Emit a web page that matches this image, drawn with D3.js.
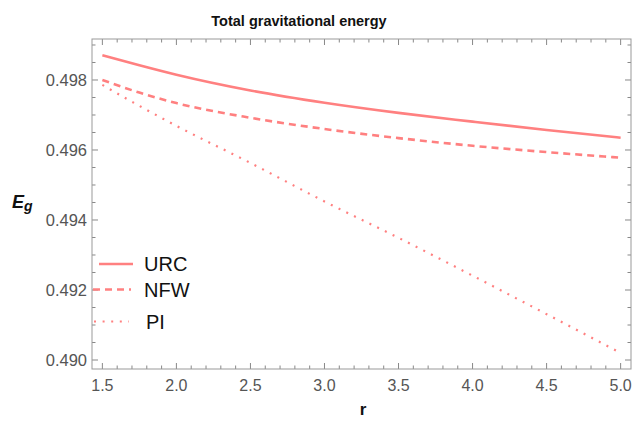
<!DOCTYPE html>
<html><head><meta charset="utf-8">
<script src="https://cdn.jsdelivr.net/npm/d3@7"></script>
<style>body{margin:0;background:#fff}svg{display:block}</style>
</head><body>
<script>
const rValues = [1.5, 1.75, 2.0, 2.5, 3.0, 3.5, 4.0, 4.5, 5.0];
const urc = [0.49871, 0.49842, 0.49815, 0.49770, 0.49735, 0.49706, 0.49681, 0.49657, 0.49635];
const nfw = [0.49800, 0.49764, 0.49734, 0.49692, 0.49660, 0.49634, 0.49612, 0.49594, 0.49578];
const pi  = [0.49786, 0.49726, 0.49669, 0.49563, 0.49453, 0.49349, 0.49241, 0.49131, 0.49020];
const seriesNames = ["URC", "NFW", "PI"];
const xTicks = [1.5, 2.0, 2.5, 3.0, 3.5, 4.0, 4.5, 5.0];
const yTicks = [0.490, 0.492, 0.494, 0.496, 0.498];

const W = 633, H = 421;
const L = 92, R = 631, T = 39, B = 369;
const col = "#ff8080";
const svg = d3.select("body").append("svg").attr("width", W).attr("height", H);

const x = d3.scaleLinear().domain([1.43, 5.07]).range([L, R]);
const y = d3.scaleLinear().domain([0.489743, 0.499171]).range([B, T]);

const frameCol = "#999";
const tickCol = "#888";
const labCol = "#555";
const font = "'Liberation Sans', Arial, sans-serif";

// minor ticks
const xMinor = d3.range(15, 51).map(v => v / 10).filter(v => xTicks.every(t => Math.abs(t - v) > 1e-6));
const yMinor = d3.range(0, 19).map(i => 0.490 + i * 0.0005).filter(v => v < 0.49917 && yTicks.every(t => Math.abs(t - v) > 1e-7));

const g = svg.append("g");
xTicks.forEach(v => {
  g.append("line").attr("x1", x(v)).attr("x2", x(v)).attr("y1", B).attr("y2", B - 6).attr("stroke", tickCol);
  g.append("line").attr("x1", x(v)).attr("x2", x(v)).attr("y1", T).attr("y2", T + 6).attr("stroke", tickCol);
  g.append("text").attr("x", x(v)).attr("y", 391).attr("text-anchor", "middle")
    .attr("font-family", font).attr("font-size", 16).attr("fill", labCol).text(d3.format(".1f")(v));
});
xMinor.forEach(v => {
  g.append("line").attr("x1", x(v)).attr("x2", x(v)).attr("y1", B).attr("y2", B - 3.5).attr("stroke", tickCol);
  g.append("line").attr("x1", x(v)).attr("x2", x(v)).attr("y1", T).attr("y2", T + 3.5).attr("stroke", tickCol);
});
yTicks.forEach(v => {
  g.append("line").attr("x1", L).attr("x2", L + 6).attr("y1", y(v)).attr("y2", y(v)).attr("stroke", tickCol);
  g.append("line").attr("x1", R).attr("x2", R - 6).attr("y1", y(v)).attr("y2", y(v)).attr("stroke", tickCol);
  g.append("text").attr("x", 87).attr("y", y(v) + 6).attr("text-anchor", "end")
    .attr("font-family", font).attr("font-size", 16.5).attr("fill", labCol).text(d3.format(".3f")(v));
});
yMinor.forEach(v => {
  g.append("line").attr("x1", L).attr("x2", L + 3.5).attr("y1", y(v)).attr("y2", y(v)).attr("stroke", tickCol);
  g.append("line").attr("x1", R).attr("x2", R - 3.5).attr("y1", y(v)).attr("y2", y(v)).attr("stroke", tickCol);
});
g.append("rect").attr("x", L).attr("y", T).attr("width", R - L).attr("height", B - T)
  .attr("fill", "none").attr("stroke", frameCol).attr("stroke-width", 1);

const data = [urc, nfw, pi];
const dashes = [null, "7,5", "2,6.6"];
const widths = [2.6, 2.6, 2.2];
const line = d3.line().x(d => x(d[0])).y(d => y(d[1])).curve(d3.curveMonotoneX);
data.forEach((s, i) => {
  svg.append("path").datum(rValues.map((r, j) => [r, s[j]]))
    .attr("d", line).attr("fill", "none").attr("stroke", col)
    .attr("stroke-width", widths[i]).attr("stroke-dasharray", dashes[i]);
});

const legY = [264, 289.5, 321.5];
const legX1 = [99, 93, 94];
const legX2 = [133, 131, 129];
const legTX = [144, 144, 146];
seriesNames.forEach((n, i) => {
  svg.append("line").attr("x1", legX1[i]).attr("x2", legX2[i]).attr("y1", legY[i]).attr("y2", legY[i])
    .attr("stroke", col).attr("stroke-width", widths[i]).attr("stroke-dasharray", dashes[i]);
  svg.append("text").attr("x", legTX[i]).attr("y", legY[i] + 7).attr("font-family", font)
    .attr("font-size", 20).attr("fill", "#111").text(n);
});

svg.append("text").attr("x", 299).attr("y", 26).attr("text-anchor", "middle")
  .attr("font-family", font).attr("font-weight", "bold").attr("font-size", 14.5).attr("fill", "#111")
  .text("Total gravitational energy");

const yl = svg.append("text").attr("x", 12).attr("y", 208).attr("font-family", font)
  .attr("font-weight", "bold").attr("font-style", "italic").attr("font-size", 18).attr("fill", "#111");
yl.append("tspan").text("E");
yl.append("tspan").attr("dy", 3).attr("font-size", 14).text("g");

svg.append("text").attr("x", 363).attr("y", 415).attr("text-anchor", "middle")
  .attr("font-family", font).attr("font-weight", "bold").attr("font-size", 17).attr("fill", "#111").text("r");
</script>
</body></html>
